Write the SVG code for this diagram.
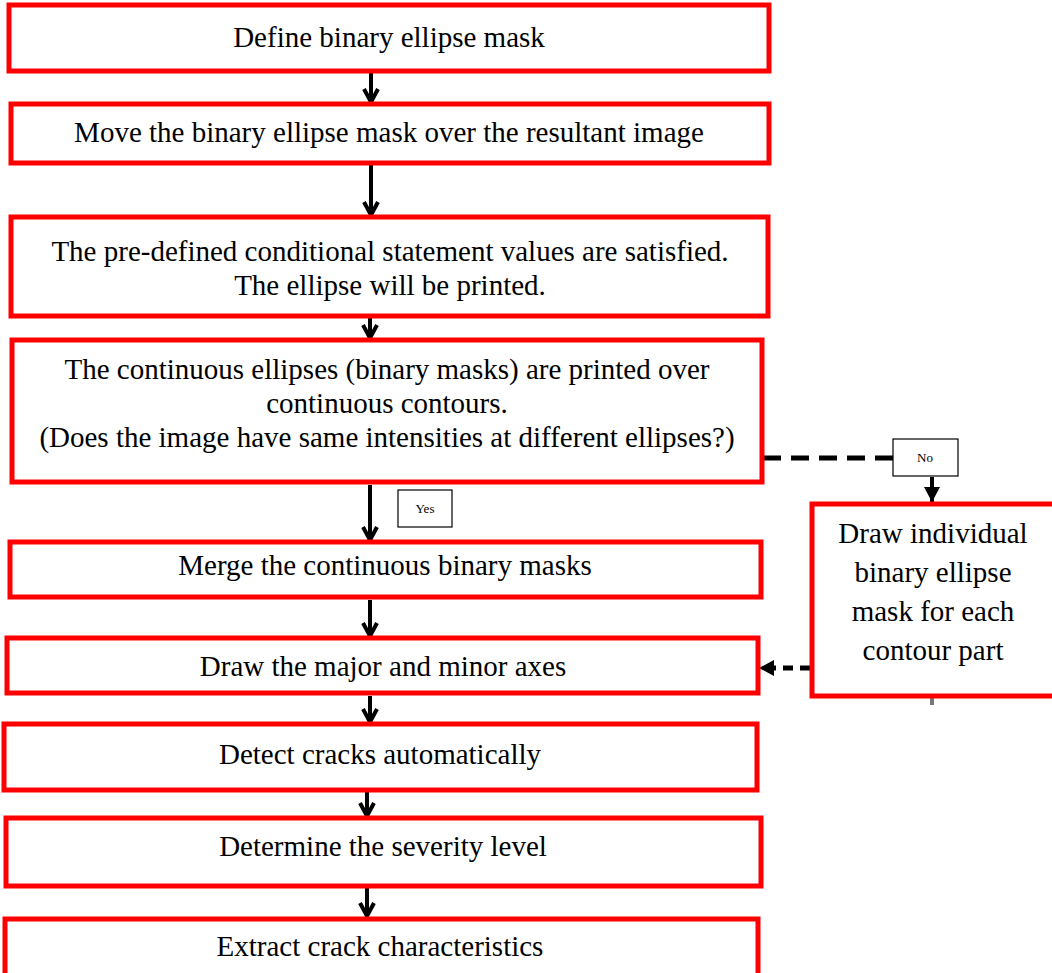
<svg xmlns="http://www.w3.org/2000/svg" width="1052" height="973" viewBox="0 0 1052 973">
<style>
.box{fill:#fff;stroke:#ff0000;stroke-width:5}
.lbl{fill:#fff;stroke:#000;stroke-width:1.2}
.t{font-family:"Liberation Serif","Times New Roman",serif;font-size:29px;fill:#000;text-anchor:middle}
.t2{font-family:"Liberation Serif","Times New Roman",serif;font-size:29px;fill:#000;text-anchor:middle}
.s{font-family:"Liberation Serif","Times New Roman",serif;font-size:13px;fill:#000;text-anchor:middle}
.arr{stroke:#000;stroke-width:4;fill:none;marker-end:url(#chev)}
.dash{stroke:#000;stroke-width:5;fill:none}
</style>
<defs>
<marker id="chev" markerUnits="userSpaceOnUse" markerWidth="20" markerHeight="20" viewBox="0 0 20 20" refX="16" refY="10" orient="auto">
<path d="M3,3 L16,10 L3,17" fill="none" stroke="#000" stroke-width="4"/>
</marker>
<marker id="tri" markerUnits="userSpaceOnUse" markerWidth="16" markerHeight="18" viewBox="0 0 16 18" refX="15" refY="9" orient="auto">
<path d="M0,1 L15,9 L0,17 Z" fill="#000"/>
</marker>
</defs>

<g id="connectors">
<path class="arr" d="M371,73 L371,102"/>
<path class="arr" d="M371,165 L371,215"/>
<path class="arr" d="M370,318 L370,338"/>
<path class="arr" d="M370,485 L370,540"/>
<path class="arr" d="M370,600 L370,636"/>
<path class="arr" d="M370,696 L370,722"/>
<path class="arr" d="M367,792 L367,816"/>
<path class="arr" d="M367,888 L367,916"/>
<path class="dash" d="M763,458 L893,458" stroke-dasharray="18 10"/>
<path d="M932,477 L932,502" stroke="#000" stroke-width="4" fill="none" marker-end="url(#tri)"/>
<path d="M810,668 L759,668" stroke="#000" stroke-width="5" fill="none" stroke-dasharray="10 7" marker-end="url(#tri)"/>
<path d="M932,696 L932,705" stroke="#777" stroke-width="4"/>
</g>

<g id="n1"><rect class="box" x="9" y="5" width="760" height="66"/><text class="t" x="389" y="47">Define binary ellipse mask</text></g>
<g id="n2"><rect class="box" x="11" y="104" width="758" height="59"/><text class="t" x="389" y="142">Move the binary ellipse mask over the resultant image</text></g>
<g id="n3"><rect class="box" x="11" y="217" width="757" height="99"/><text class="t" x="390" y="261">The pre-defined conditional statement values are satisfied.</text><text class="t" x="390" y="295">The ellipse will be printed.</text></g>
<g id="n4"><rect class="box" x="12" y="340" width="750" height="142"/><text class="t" x="387" y="379">The continuous ellipses (binary masks) are printed over</text><text class="t" x="387" y="413">continuous contours.</text><text class="t" x="387" y="447">(Does the image have same intensities at different ellipses?)</text></g>
<g id="yes"><rect class="lbl" x="398" y="490" width="54" height="37"/><text class="s" x="425" y="513">Yes</text></g>
<g id="no"><rect class="lbl" x="893" y="439" width="65" height="37"/><text class="s" x="925" y="462">No</text></g>
<g id="n5"><rect class="box" x="10" y="542" width="751" height="55"/><text class="t" x="385" y="575">Merge the continuous binary masks</text></g>
<g id="n6"><rect class="box" x="7" y="638" width="751" height="55"/><text class="t" x="383" y="676">Draw the major and minor axes</text></g>
<g id="n7"><rect class="box" x="4" y="724" width="753" height="66"/><text class="t" x="380" y="764">Detect cracks automatically</text></g>
<g id="n8"><rect class="box" x="6" y="818" width="755" height="68"/><text class="t" x="383" y="856">Determine the severity level</text></g>
<g id="n9"><rect class="box" x="5" y="919" width="753" height="70"/><text class="t" x="380" y="956">Extract crack characteristics</text></g>
<g id="n10"><rect class="box" x="812" y="504" width="250" height="192"/><text class="t2" x="933" y="543">Draw individual</text><text class="t2" x="933" y="582">binary ellipse</text><text class="t2" x="933" y="621">mask for each</text><text class="t2" x="933" y="660">contour part</text></g>
</svg>
